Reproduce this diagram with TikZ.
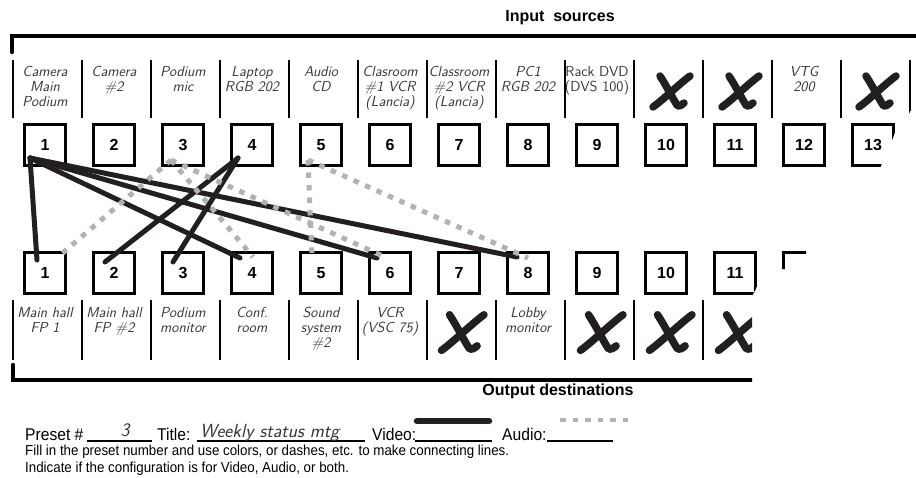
\documentclass[tikz,border=0pt]{standalone}
\usepackage{fontspec}
\newfontfamily\helv{Liberation Sans}[FakeStretch=0.92]
\newfontfamily\helvbold{Liberation Sans}
\definecolor{videoline}{RGB}{35,31,32}
\definecolor{audioline}{RGB}{178,178,182}
\definecolor{handink}{RGB}{55,55,55}

\tikzset{
  numbox/.style={draw, line width=2.6pt, minimum size=41.5pt, inner sep=0pt,
    font=\helvbold\fontsize{16}{16}\selectfont\bfseries},
  handlabel/.style={align=center, inner sep=0pt, anchor=north, text=handink,
    font=\sffamily\slshape\fontsize{14.5}{15}\selectfont},
  heading/.style={inner sep=0pt, font=\helvbold\fontsize{16}{16}\selectfont\bfseries},
  formtext/.style={inner sep=0pt, anchor=base west, font=\helv\fontsize{17}{17}\selectfont},
  smalltext/.style={inner sep=0pt, anchor=base west, font=\helv\fontsize{14.5}{14.5}\selectfont},
  handfill/.style={inner sep=0pt, anchor=base, text=handink,
    font=\sffamily\slshape\fontsize{19}{19}\selectfont},
  divider/.style={line width=2.6pt},
  bracket/.style={line width=4.5pt, line cap=round},
  blank/.style={line width=1.8pt},
  video/.style={line width=5pt, line cap=round, draw=videoline},
  audio/.style={line width=5pt, draw=audioline, dash pattern=on 5.5pt off 7pt},
  unusedink/.style={line width=7.5pt, line cap=round, draw=videoline},
}

% hand drawn cross for an unused column
\newcommand{\unusedmark}[2][1]{%
  \draw[unusedink, shift={(#2)}, scale=#1] (-17,16) .. controls (-6,8) and (8,-6) .. (20,-15);
  \draw[unusedink, shift={(#2)}, scale=#1] (-10,-15) .. controls (-4,-6) and (3,8) .. (7,14)
    .. controls (9,16) and (12,14) .. (14,12);}

\begin{document}
\begin{tikzpicture}[x=1pt, y=-1pt]
  \useasboundingbox (0,0) rectangle (916,477);

  \begin{scope}
    % the scan is cut off at the lower right
    \clip (0,-5) -- (920,-5) -- (920,98) -- (895,133) -- (880,168) -- (806,250)
      -- (806,269) -- (781,269) -- (757,287) -- (752,296) -- (752,480) -- (0,480) -- cycle;

    % inputs
    \node[heading] (insrc) at (560,18) {Input~ sources};
    \draw[bracket] (12,52) -- (12,36) -- (925,36);
    \foreach \k in {0,...,13}
      \draw[divider] ({13+69*\k},60) -- ({13+69*\k},118);
    \foreach \i in {1,...,13}
      \node[numbox] (in\i) at ({45+69*(\i-1)},145) {\i};

    \node[handlabel] (inlab1) at (45,66) {Camera\\Main\\Podium};
    \node[handlabel] (inlab2) at (114,66) {Camera\\\#2};
    \node[handlabel] (inlab3) at (183,66) {Podium\\mic};
    \node[handlabel] (inlab4) at (252,66) {Laptop\\RGB 202};
    \node[handlabel] (inlab5) at (321,66) {Audio\\CD};
    \node[handlabel] (inlab6) at (390,66) {Clasroom\\\#1 VCR\\(Lancia)};
    \node[handlabel] (inlab7) at (459,66) {Classroom\\\#2 VCR\\(Lancia)};
    \node[handlabel] (inlab8) at (528,66) {PC1\\RGB 202};
    \node[handlabel, font=\sffamily\fontsize{14.5}{15}\selectfont] (inlab9) at (597,66) {Rack DVD\\(DVS 100)};
    \node[handlabel] (inlab12) at (804,66) {VTG\\200};
    \unusedmark{670,91}
    \unusedmark{739,91}
    \unusedmark{876,91}

    % outputs
    \foreach \i in {1,...,11}
      \node[numbox] (out\i) at ({45+69*(\i-1)},273) {\i};
    \node[numbox] (out12) at (804,273) {};
    \foreach \k in {0,...,11}
      \draw[divider] ({13+69*\k},300) -- ({13+69*\k},360);

    \node[handlabel] (outlab1) at (45,307) {Main hall\\FP 1};
    \node[handlabel] (outlab2) at (114,307) {Main hall\\FP \#2};
    \node[handlabel] (outlab3) at (183,307) {Podium\\monitor};
    \node[handlabel] (outlab4) at (252,307) {Conf.\\room};
    \node[handlabel] (outlab5) at (321,307) {Sound\\system\\\#2};
    \node[handlabel] (outlab6) at (390,307) {VCR\\(VSC 75)};
    \node[handlabel] (outlab8) at (528,307) {Lobby\\monitor};
    \unusedmark[1.15]{461,332}
    \unusedmark[1.15]{600,332}
    \unusedmark[1.15]{669,332}
    \unusedmark[1.15]{738,332}

    \draw[bracket] (13,365) -- (13,380) -- (760,380);
    \node[heading] (outdst) at (558,391) {Output destinations};

    % video routes
    \draw[video] ([shift={(-15,13)}]in1.center) -- ([shift={(-8,-13)}]out1.center);
    \draw[video] ([shift={(-15,13)}]in1.center) -- ([shift={(-12,-15)}]out4.center);
    \draw[video] ([shift={(-15,13)}]in1.center) -- ([shift={(-13,-15)}]out6.center);
    \draw[video] ([shift={(-15,13)}]in1.center) -- ([shift={(-11,-16)}]out8.center);
    \draw[video] ([shift={(-14,13)}]in4.center) -- ([shift={(-9,-11)}]out2.center);
    \draw[video] ([shift={(-14,13)}]in4.center) -- ([shift={(-10,-11)}]out3.center);

    % audio routes
    \draw[audio] ([shift={(-12,15)}]in3.center) -- ([shift={(13,-16)}]out1.center);
    \draw[audio] ([shift={(-12,15)}]in3.center) -- ([shift={(1,-16)}]out4.center);
    \draw[audio] ([shift={(-12,15)}]in3.center) -- ([shift={(-3,-15)}]out6.center);
    \draw[audio] ([shift={(-13,15)}]in5.center) -- ([shift={(-9,-16)}]out5.center);
    \draw[audio] ([shift={(-13,15)}]in5.center) -- ([shift={(0,-15)}]out8.center);
  \end{scope}

  % preset form
  \node[formtext] (preset) at (25,440) {Preset \#};
  \draw[blank] (87,441) -- (152,441);
  \node[handfill] (presetno) at (125,436) {3};
  \node[formtext] (title) at (157,440) {Title:};
  \draw[blank] (197,441) -- (365,441);
  \node[handfill, anchor=base west] (titletext) at (200,437) {Weekly status mtg};
  \node[formtext] (videokey) at (372,440) {Video:};
  \draw[blank] (415,441) -- (492,441);
  \draw[video, line width=6.5pt] (417,421) -- (489,421);
  \node[formtext] (audiokey) at (502,440) {Audio:};
  \draw[blank] (547,441) -- (613,441);
  \draw[audio, line width=4.5pt] (560,420) -- (634,420);
  \node[smalltext] (hint1) at (25,455) {Fill in the preset number and use colors, or dashes, etc. to make connecting lines.};
  \node[smalltext] (hint2) at (25,472) {Indicate if the configuration is for Video, Audio, or both.};
\end{tikzpicture}
\end{document}
